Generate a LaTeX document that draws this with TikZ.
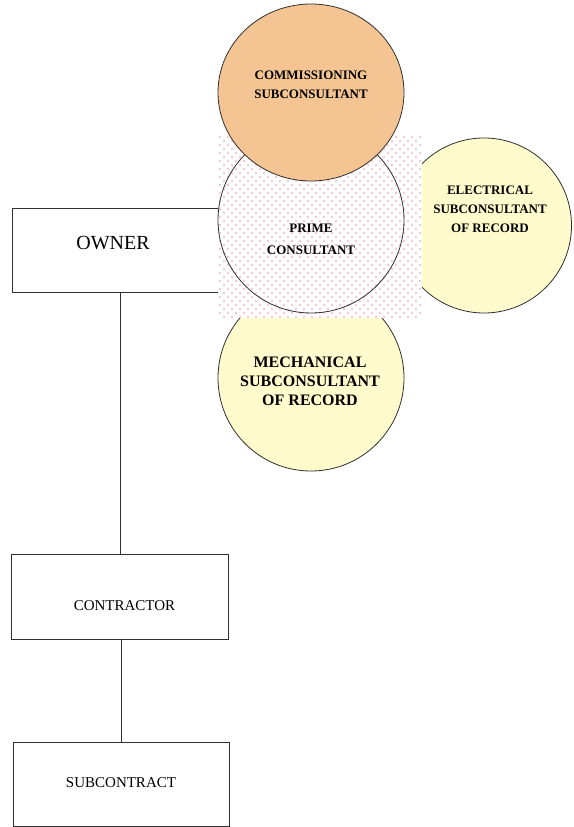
\documentclass[tikz,border=0pt]{standalone}
\usepackage{fontspec}
\setmainfont{Liberation Serif}
\usetikzlibrary{shapes.geometric}
\definecolor{commfill}{HTML}{F4C592}
\definecolor{yelfill}{HTML}{FFFBCC}
\definecolor{dotpink}{HTML}{F7B8C4}
\definecolor{edge}{HTML}{303030}
\tikzset{
  box/.style={draw=edge, line width=0.8pt, rectangle, inner sep=0pt, outer sep=0pt},
  circ/.style={draw=edge, line width=0.8pt, ellipse, inner sep=0pt, outer sep=0pt},
  link/.style={draw=edge, line width=0.8pt},
  dotfill/.style={fill=dotpink},
  boxtext/.style={inner sep=0pt, font=\fontsize{15}{18}\selectfont},
  ctext/.style={inner sep=0pt, align=center, font=\fontsize{13}{19}\selectfont\bfseries},
}
\begin{document}
\begin{tikzpicture}[x=1pt, y=-1pt]
\useasboundingbox (0,0) rectangle (573,827);
% boxes
\node[box, minimum width=217pt, minimum height=83.5pt] (owner) at (120.5,250.5) {};
\node[box, minimum width=217pt, minimum height=85pt] (contractor) at (119.5,596.5) {};
\node[box, minimum width=216pt, minimum height=84pt] (subcontract) at (121,784) {};
\draw[link] (owner.south) -- (owner.south |- contractor.north);
\draw[link] (subcontract.north |- contractor.south) -- (subcontract.north);
% circles behind the pattern
\node[circ, fill=yelfill, minimum width=175pt, minimum height=175pt] (electrical) at (484,225.5) {};
\node[circ, fill=yelfill, minimum width=186pt, minimum height=186pt] (mechanical) at (311,378) {};
% pattern square
\fill[white] (218,135) rectangle (422,318);
\begin{scope}
\clip (218,135) rectangle (422,318);
\foreach \i in {0,...,25} {
  \foreach \j in {0,...,23} {
    \fill[dotfill] (220+8*\i, 137+8*\j) circle (1.2);
    \fill[dotfill] (224+8*\i, 141+8*\j) circle (1.2);
  }
}
\end{scope}
% prime and commissioning
\node[circ, minimum width=186pt, minimum height=186pt] (prime) at (311,220) {};
\node[circ, fill=commfill, minimum width=186pt, minimum height=177pt] (commissioning) at (311,92.5) {};
% texts
\node[boxtext, font=\fontsize{20}{24}\selectfont] (ownertext) at (113,243) {OWNER};
\node[boxtext] (contractortext) at (124.5,606) {CONTRACTOR};
\node[boxtext] (subcontracttext) at (121,783) {SUBCONTRACT};
\node[ctext] (commtext) at (311,85) {COMMISSIONING\\SUBCONSULTANT};
\node[ctext, font=\fontsize{13}{22}\selectfont\bfseries] (primetext) at (311,239) {PRIME\\CONSULTANT};
\node[ctext] (electext) at (490,209) {ELECTRICAL\\SUBCONSULTANT\\OF RECORD};
\node[ctext, font=\fontsize{16}{19}\selectfont\bfseries] (mechtext) at (310,381) {MECHANICAL\\SUBCONSULTANT\\OF RECORD};
\end{tikzpicture}
\end{document}
